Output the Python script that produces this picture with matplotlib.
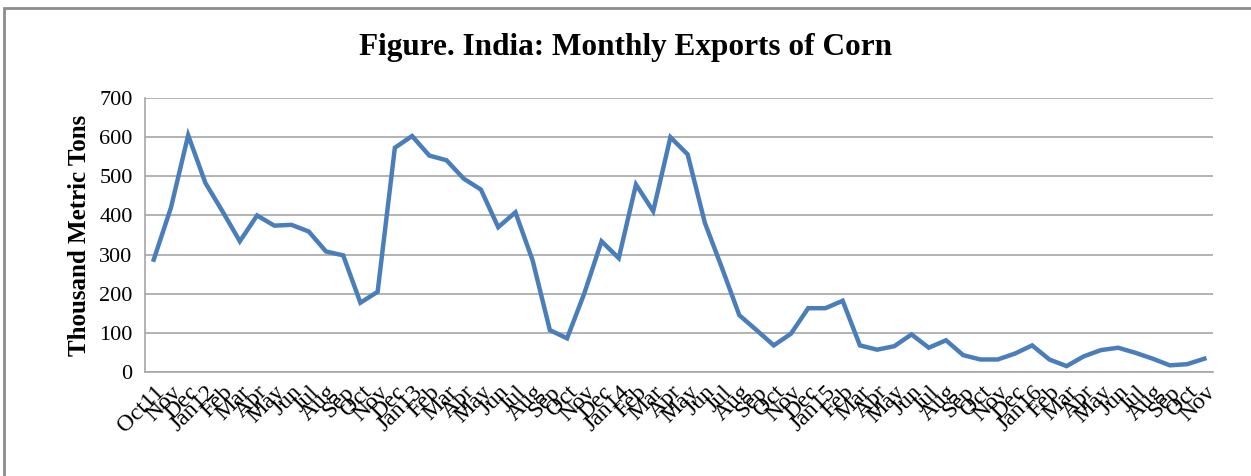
import matplotlib.pyplot as plt
from matplotlib.patches import Rectangle

plt.rcParams['font.family'] = ['Liberation Serif', 'DejaVu Serif']

# 月ラベル (Oct 2011 - Nov 2016)
months = ['Oct', 'Nov', 'Dec', 'Jan', 'Feb', 'Mar', 'Apr', 'May', 'Jun', 'Jul', 'Aug', 'Sep']
labels = []
year = 11
for i in range(62):
    m = months[i % 12]
    if i == 0:
        labels.append('Oct11')
    elif m == 'Jan':
        year += 1
        labels.append(f'Jan{year}')
    else:
        labels.append(m)

# 輸出量 (thousand metric tons)
exports = [287, 420, 605, 483, 410, 334, 400, 374, 376, 359, 308, 298,
           177, 205, 573, 603, 553, 541, 494, 466, 370, 408, 285, 107,
           86, 201, 334, 291, 479, 411, 600, 556, 381, 265, 145, 107,
           68, 98, 163, 163, 182, 68, 57, 66, 96, 62, 81, 43,
           32, 32, 47, 68, 32, 15, 40, 56, 62, 49, 34, 17,
           20, 34]

fig = plt.figure(figsize=(12.51, 4.76), dpi=100)
ax = fig.add_axes([0.116, 0.2185, 0.8536, 0.5755])

x = list(range(len(exports)))
ax.plot(x, exports, color='#4a7ebb', linewidth=3.2, solid_joinstyle='miter')

ax.set_xlim(-0.5, len(exports) - 0.5)
ax.set_ylim(0, 700)
ax.set_yticks(range(0, 701, 100))
ax.set_xticks(x)
ax.set_xticklabels(labels, rotation=45, ha='right', rotation_mode='anchor', fontsize=17)
ax.tick_params(axis='y', labelsize=16, length=0, pad=9)
ax.tick_params(axis='x', length=0, pad=7)

ax.grid(axis='y', color='#a6a6a6', linewidth=1.2)
ax.set_axisbelow(True)
for s in ['top', 'right']:
    ax.spines[s].set_visible(False)
for s in ['left', 'bottom']:
    ax.spines[s].set_color('#a6a6a6')
    ax.spines[s].set_linewidth(1.2)

ax.set_ylabel('Thousand Metric Tons', fontsize=18, fontweight='bold', labelpad=6)
fig.suptitle('Figure. India: Monthly Exports of Corn', fontsize=22.5, fontweight='bold', y=0.93)

# 外枠
fig.patches.append(Rectangle((4 / 1251, -0.1), 1.2, 1 - 8 / 476 + 0.1, transform=fig.transFigure,
                             fill=False, edgecolor='#8c8c8c', linewidth=2))

fig.savefig('out.png', dpi=100)
